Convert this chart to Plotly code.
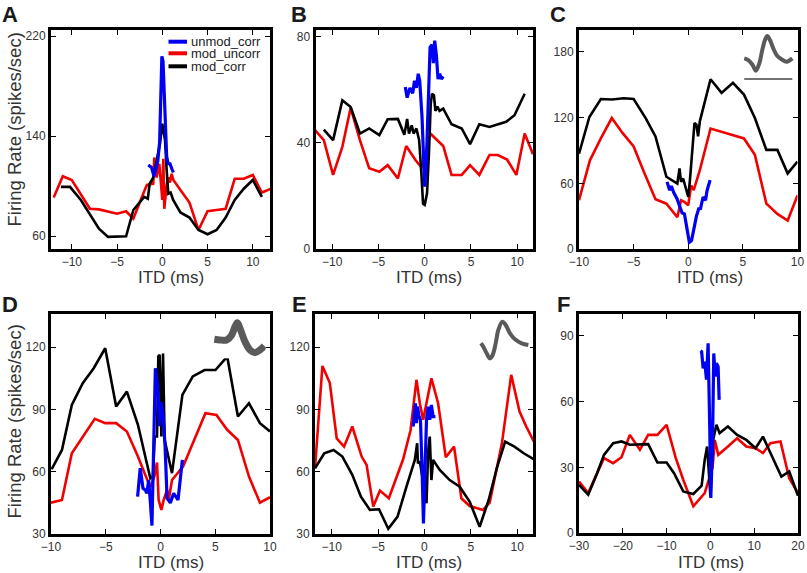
import plotly.graph_objects as go

# ---------------- data ----------------
# Panel A
A_blue_x = [-1.55, -1.18, -0.92, -0.7, -0.5, -0.3, -0.15, -0.05, 0.08, 0.2, 0.32, 0.48, 0.65, 0.85, 1.05, 1.22]
A_blue_y = [117, 115, 108, 115, 120, 135, 170, 204, 200, 175, 145, 124, 118, 118, 114, 111]
A_red_x = [-12, -11, -10, -9, -8, -7, -6, -5, -4, -3.2, -2, -1.7, -1.0, -0.89, -0.63, -0.33, 0, 0.11, 0.22, 0.48,
           0.66, 0.85, 1.03, 1.22, 2, 3, 4, 5, 6, 7, 8, 9, 10, 11, 12]
A_red_y = [91, 108, 105, 94, 82, 81.5, 80, 78, 80, 74, 96, 101, 102, 123, 107, 118, 89, 122, 82, 101,
           107, 103, 110, 105, 97, 87, 65, 80, 81, 82, 106, 106, 109, 95, 98]
A_black_x = [-11.2, -10.2, -9, -8, -7, -6, -5, -4, -3.2, -2, -1.6, -1.4, -1.0, -0.63, -0.26, 0, 0.3, 0.48, 0.66,
             0.92, 1.2, 2, 3, 4, 5, 6, 7, 8, 9, 10, 11]
A_black_y = [99.5, 99.5, 89, 78, 66, 59.5, 59.5, 60, 81, 91.5, 90, 102, 107, 121, 134, 150, 137, 113, 94,
             95, 89, 79, 75, 65, 61.6, 65, 75, 89, 98, 105, 91.5]

# Panel B
B_blue_x = [-2.1, -1.9, -1.6, -1.3, -1.1, -0.9, -0.7, -0.54, -0.29, -0.14, 0, 0.18, 0.36, 0.58, 0.79, 0.94,
            1.08, 1.26, 1.44, 1.62, 1.8, 2.0]
B_blue_y = [61, 57, 60.7, 58.7, 63.4, 60.7, 66, 63.4, 49.7, 33.5, 23.5, 33.5, 56, 76, 77, 70,
            78.5, 73, 64, 66, 64, 65]
B_red_x = [-11.9, -10.9, -9.9, -8.9, -8.0, -7.0, -6.0, -4.9, -4.0, -2.9, -2.0, -1.0, -0.3, 0.6, 2.0, 2.9,
           4.0, 4.9, 5.9, 7.0, 7.9, 8.9, 9.9, 10.8, 11.7]
B_red_y = [45, 41, 27.9, 38.5, 53.2, 41, 30.4, 29.1, 31.6, 26.6, 38.8, 33.5, 30.5, 43.5, 38.8, 27.9,
           27.9, 31.6, 27.9, 35.4, 35.4, 33.7, 27.9, 43.5, 35.7]
B_black_x = [-10.9, -9.9, -8.9, -8.0, -7.0, -6.0, -4.9, -4.0, -2.9, -2.2, -1.9, -1.7, -1.4, -1.2, -0.9, -0.6,
             -0.36, -0.18, 0, 0.25, 0.47, 0.65, 0.79, 1.0, 1.15, 1.37, 1.6, 2.0, 2.9, 4.0, 4.9, 5.9, 7.0,
             8.8, 9.7, 10.8]
B_black_y = [45, 41, 56, 53.5, 43.5, 45.4, 42.9, 48.9, 49, 43, 49, 43.5, 46.6, 43.5, 45.4, 41,
             28.5, 17, 16.6, 21, 37, 54.7, 58.5, 57.9, 52, 53.7, 52, 52.9, 47, 45.4, 39.5, 47, 46,
             47.9, 50.4, 58.5]

# Panel C
C_blue_x = [-1.94, -1.7, -1.55, -1.33, -1.03, -0.8, -0.57, -0.35, -0.12, 0.1, 0.3, 0.5, 0.75, 0.96, 1.12,
            1.36, 1.58, 1.73, 2.0]
C_blue_y = [61.3, 53.7, 57.5, 51.5, 46, 39, 33, 32, 18, 6.1, 7.7, 18, 30, 36.8, 37, 47.5, 44.5, 53.7, 62.9]
C_red_x = [-10, -9, -8, -7, -6, -5, -4, -3, -2, -1, -0.66, -0.35, 0, 0.26, 0.5, 1.06, 2.04, 3.05, 4.09,
           5.1, 6.1, 7.15, 8.16, 9.1, 10]
C_red_y = [44.5, 81, 101, 119.6, 105.8, 93.6, 69, 45.4, 41.4, 29, 44.5, 43, 40, 58, 53.7, 72, 110, 107, 104,
           101, 86, 41.4, 32, 26, 49]
C_black_x = [-10, -9.05, -8.0, -7.0, -5.9, -5.0, -3.9, -3.0, -2.0, -1.0, -0.8, -0.66, -0.47, -0.26, 0, 0.14,
             0.35, 0.57, 0.75, 0.9, 1.06, 2.04, 3.05, 4.09, 5.1, 6.1, 7.15, 8.16, 9.1, 10]
C_black_y = [87, 120.6, 137, 136.5, 137.7, 137, 119.6, 102.8, 66, 59.8, 73.6, 61.3, 64.4, 56.7, 47.5, 61.3,
             84.4, 115, 113.5, 102.8, 116.6, 155, 142.6, 151.8, 141, 119.6, 90.5, 90.5, 69, 79.8]

# Panel D
D_blue_x = [-2.09, -1.85, -1.6, -1.39, -1.24, -1.08, -0.93, -0.78, -0.47, -0.26, -0.1, 0.05, 0.25, 0.42, 0.6,
            0.9, 1.2, 1.45, 1.6, 1.8, 2.0]
D_blue_y = [48, 61.7, 52, 51.2, 49.6, 56, 45.6, 34, 109.9, 101, 82, 93.5, 86, 72, 47.2,
            45, 49.6, 47.2, 46.4, 56, 65.7]
D_red_x = [-10, -9, -8.1, -7.1, -6.0, -5.05, -4.05, -3.07, -2.06, -1.08, -0.87, -0.55, -0.32, -0.17, 0.08,
           0.29, 0.6, 0.75, 1.05, 2.06, 3.04, 4.1, 5.11, 6.09, 7.07, 8.08, 9.08, 10]
D_red_y = [45.1, 46.4, 68.9, 76.9, 85.5, 83.4, 83.4, 79.4, 67.3, 54.4, 52.8, 58, 64.4, 46.4, 41.6,
           46.4, 51.2, 46.4, 56, 62.5, 75.3, 88.2, 87.4, 80.2, 75.3, 57.7, 45.1, 47.7]
D_black_x = [-9.94, -9.0, -8.1, -7.1, -6.1, -5.05, -4.05, -3.07, -2.06, -0.93, -0.69, -0.53, -0.32, -0.2,
             -0.08, 0.08, 0.23, 0.38, 1.05, 2.0, 2.95, 4.02, 5.02, 6.09, 7.07, 8.08, 9.08, 10]
D_black_y = [61.2, 70.5, 92.2, 102.7, 109.9, 119.5, 91.4, 98.6, 82.6, 56.8, 57.7, 77, 77, 115.5,
             116.3, 77, 117, 75.3, 59.3, 97, 105.9, 109, 109, 115.5, 86.6, 93, 83.4, 79.4]

# Panel E
E_blue_x = [-1.22, -0.97, -0.86, -0.75, -0.6, -0.43, -0.25, -0.11, 0.05, 0.22, 0.39, 0.57, 0.75, 0.93, 1.18]
E_blue_y = [81.8, 93, 83.4, 91.4, 87, 85, 60, 35.1, 60, 85, 91.4, 85, 92.2, 86.6, 86.6]
E_red_x = [-11.8, -11.0, -10.2, -9.46, -8.67, -7.78, -6.77, -6.24, -5.52, -4.8, -3.84, -3.1, -2.3, -1.5,
           -0.86, -0.5, -0.14, 0.75, 1.47, 2.3, 3.19, 3.98, 4.87, 6.31, 7.03, 8.35, 9.35, 10.25, 10.97, 11.8]
E_red_y = [61.7, 111, 102.7, 76.1, 72.1, 81.8, 67.3, 63.3, 43.2, 50.9, 47.2, 56, 66, 80,
           104.3, 93, 85, 105, 93, 67, 72.1, 47.2, 43.5, 41.6, 45.1, 73.7, 106.7, 89, 81.8, 74.5]
E_black_x = [-11.8, -10.8, -9.8, -8.85, -7.78, -6.85, -5.88, -4.9, -3.9, -2.9, -1.94, -1.04, -0.79, -0.7,
             -0.5, 0.22, 0.4, 0.57, 0.75, 0.93, 1.65, 2.72, 3.8, 4.87, 5.95, 6.92, 7.8, 8.7, 9.7, 10.7, 11.8]
E_black_y = [61.7, 68.9, 70.5, 67.3, 58.5, 48, 41.6, 41.9, 32.5, 38.4, 52.8, 65.7, 73.7, 64,
             65, 44.8, 70, 76.9, 56, 65.7, 60.9, 56, 52.8, 45.6, 33.5, 46.4, 61.7, 74.5, 72.1, 68.9, 66]

# Panel F
F_blue_x = [-2.25, -2.0, -1.66, -1.28, -0.9, -0.52, -0.14, 0.09, 0.47, 0.77, 1.08, 1.38, 1.76, 2.0]
F_blue_y = [83.2, 82.8, 75.2, 78.2, 70, 86.6, 47, 16, 39.5, 82, 71.4, 77.5, 76, 60.8]
F_red_x = [-30, -27.9, -26.4, -24.3, -22.2, -20.3, -18.4, -16.1, -14.2, -12.1, -10, -7.9, -6.2, -3.9, -1.3,
           0.5, 1.0, 1.8, 4.0, 6.1, 8.2, 10.3, 12.0, 13.7, 16.0, 18, 20]
F_red_y = [23.5, 18.2, 25, 34.2, 31.9, 34.6, 44.8, 38, 44.8, 44.8, 49.4, 34.2, 24.3, 12.2, 18.2,
           30, 42.5, 35.7, 39.5, 43.3, 39.5, 38.7, 36.5, 41, 41.8, 25, 18.2]
F_black_x = [-30, -27.9, -26, -24.3, -22.2, -20.3, -18.4, -16.5, -14.2, -12.1, -10, -8.3, -6.2, -3.9, -2.0,
             -1.3, -0.75, -0.29, 0, 0.62, 1.38, 2.1, 4.0, 6.1, 8.2, 10.3, 12.0, 13.9, 16.2, 18, 20]
F_black_y = [22, 17.5, 26.6, 35.7, 41, 41.8, 40.3, 40.3, 40.6, 32.2, 32.2, 27.3, 19, 17.8, 21.6,
             33.4, 39.5, 25.8, 16.7, 42.5, 49.4, 45.6, 48.6, 44.8, 42.5, 38.7, 44, 35.7, 25.8, 28.1, 17]

# Spike waveform insets (normalised amplitude vs normalised time)
C_wave_t = [0, 0.083, 0.174, 0.243, 0.313, 0.375, 0.431, 0.479, 0.535, 0.604, 0.688, 0.778, 0.882, 1.0]
C_wave_v = [0.25, 0.2, 0.05, -0.12, 0.1, 0.5, 0.8, 0.92, 0.8, 0.55, 0.32, 0.22, 0.15, 0.25]
C_bar_t = [0, 1.0]
C_bar_v = [-0.37, -0.37]
D_wave_t = [0, 0.113, 0.247, 0.347, 0.413, 0.46, 0.513, 0.613, 0.713, 0.813, 0.913, 1.0]
D_wave_v = [0.22, 0.2, 0.2, 0.35, 0.6, 0.72, 0.55, 0.15, -0.1, -0.18, -0.1, 0.02]
E_wave_t = [0.033, 0.08, 0.147, 0.213, 0.267, 0.327, 0.38, 0.46, 0.527, 0.613, 0.713, 0.847, 0.98]
E_wave_v = [0.1, 0, -0.2, -0.35, -0.25, 0.1, 0.5, 0.75, 0.65, 0.4, 0.22, 0.1, 0.05]

series_names = ["unmod_corr", "mod_uncorr", "mod_corr"]
panel_letters = ["A", "B", "C", "D", "E", "F"]
x_title = "ITD (ms)"
y_title = "Firing Rate (spikes/sec)"

# ---------------- style / layout ----------------
W, H = 807, 573
FONT = "Liberation Sans, Arial, Helvetica, sans-serif"
BLUE, RED, BLACK, GREY = "#0000f5", "#f00000", "#000000", "#5a5a5a"

panel_data = [
    (A_blue_x, A_blue_y, A_red_x, A_red_y, A_black_x, A_black_y),
    (B_blue_x, B_blue_y, B_red_x, B_red_y, B_black_x, B_black_y),
    (C_blue_x, C_blue_y, C_red_x, C_red_y, C_black_x, C_black_y),
    (D_blue_x, D_blue_y, D_red_x, D_red_y, D_black_x, D_black_y),
    (E_blue_x, E_blue_y, E_red_x, E_red_y, E_black_x, E_black_y),
    (F_blue_x, F_blue_y, F_red_x, F_red_y, F_black_x, F_black_y),
]

# pixel boxes of the six axes: (left, right, top, bottom)
boxes = [(51, 270, 29.5, 248.5), (315.5, 533, 30, 249), (579, 797.5, 30, 249),
         (51, 270, 314, 534), (315, 533, 314, 534), (579, 798, 314, 533)]
x_ranges = [[-12.3, 11.9], [-11.8, 11.7], [-10, 10], [-10, 10], [-11.8, 11.7], [-30, 20]]
y_ranges = [[50.2, 225.4], [0, 82.5], [0, 200], [30, 136], [30, 136], [0, 100]]
x_dticks = [5, 5, 5, 5, 5, 10]
y_ticks = [(60, 80), (0, 40), (0, 60), (30, 30), (30, 30), (0, 30)]

fig = go.Figure()


def ax_id(i):
    return "" if i == 1 else str(i)


for i, (bx, by, rx, ry, kx, ky) in enumerate(panel_data, start=1):
    xa, ya = "x" + ax_id(i), "y" + ax_id(i)
    fig.add_trace(go.Scatter(x=rx, y=ry, mode="lines", line=dict(color=RED, width=2.6),
                             name=series_names[1], xaxis=xa, yaxis=ya, showlegend=False))
    fig.add_trace(go.Scatter(x=kx, y=ky, mode="lines", line=dict(color=BLACK, width=2.6),
                             name=series_names[2], xaxis=xa, yaxis=ya, showlegend=False))
    fig.add_trace(go.Scatter(x=bx, y=by, mode="lines", line=dict(color=BLUE, width=3.2),
                             name=series_names[0], xaxis=xa, yaxis=ya, showlegend=False))

axis_common = dict(showline=True, linewidth=3, linecolor="#000000", mirror="ticks",
                   ticks="inside", ticklen=5, tickwidth=1, tickcolor="#000000",
                   showgrid=False, zeroline=False, automargin=False,
                   tickfont=dict(family=FONT, size=12, color="#333333"))

layout = dict(template="none", width=W, height=H, margin=dict(l=0, r=0, t=0, b=0, pad=0),
              paper_bgcolor="white", plot_bgcolor="white", showlegend=False)

for i in range(1, 7):
    l, r, t, b = boxes[i - 1]
    layout["xaxis" + ax_id(i)] = dict(axis_common, domain=[l / W, r / W], range=x_ranges[i - 1],
                                      dtick=x_dticks[i - 1], tick0=0, anchor="y" + ax_id(i))
    t0, dt = y_ticks[i - 1]
    layout["yaxis" + ax_id(i)] = dict(axis_common, domain=[1 - b / H, 1 - t / H], range=y_ranges[i - 1],
                                      tick0=t0, dtick=dt, anchor="x" + ax_id(i))

# ---- spike waveform insets ----
insets = [  # (axis index, t, v, width, px box (l, r, t, b), t range, v range)
    (7, C_wave_t, C_wave_v, 4, (743.3, 794, 31.7, 81.7), [-0.02, 1.035], [-0.45, 1.05]),
    (8, D_wave_t, D_wave_v, 7, (212.7, 265.7, 318.3, 358.3), [-0.033, 1.027], [-0.35, 0.85]),
    (9, E_wave_t, E_wave_v, 4, (478.3, 530, 318.3, 361.7), [-0.02, 1.013], [-0.45, 0.85]),
]
for idx, tt, vv, wd, (l, r, t, b), tr, vr in insets:
    fig.add_trace(go.Scatter(x=tt, y=vv, mode="lines", line=dict(color=GREY, width=wd, shape="spline"),
                             xaxis="x%d" % idx, yaxis="y%d" % idx, showlegend=False))
    layout["xaxis%d" % idx] = dict(domain=[l / W, r / W], range=tr, visible=False, anchor="y%d" % idx,
                                   automargin=False)
    layout["yaxis%d" % idx] = dict(domain=[1 - b / H, 1 - t / H], range=vr, visible=False, anchor="x%d" % idx,
                                   automargin=False)
fig.add_trace(go.Scatter(x=C_bar_t, y=C_bar_v, mode="lines", line=dict(color="#444444", width=1.5),
                         xaxis="x7", yaxis="y7", showlegend=False))

fig.update_layout(**layout)

# ---- annotations: panel letters, axis titles, legend ----
ann = []
letter_pos = [(10, 15), (299, 15), (558, 15), (10, 304), (299, 304), (563, 304)]
for L, (px, py) in zip(panel_letters, letter_pos):
    ann.append(dict(x=px / W, y=1 - py / H, xref="paper", yref="paper", text="<b>%s</b>" % L,
                    showarrow=False, xanchor="center", yanchor="middle",
                    font=dict(family=FONT, size=22, color="#1a1a1a")))
xt_pos = [(171, 277), (429, 277), (710, 277), (171, 562), (429, 562), (711, 562)]
for px, py in xt_pos:
    ann.append(dict(x=px / W, y=1 - py / H, xref="paper", yref="paper", text=x_title,
                    showarrow=False, xanchor="center", yanchor="middle",
                    font=dict(family=FONT, size=17, color="#333333")))
for py in (130, 422):
    ann.append(dict(x=13.5 / W, y=1 - py / H, xref="paper", yref="paper", text=y_title, textangle=-90,
                    showarrow=False, xanchor="center", yanchor="middle",
                    font=dict(family=FONT, size=18.5, color="#333333")))

# legend of panel A (inside, top right)
leg_colors = [BLUE, RED, BLACK]
leg_rows = [41.7, 53.3, 66.3]
l, r, t, b = boxes[0]
shapes = []
for name, col, py in zip(series_names, leg_colors, leg_rows):
    yf = (b - py) / (b - t)
    shapes.append(dict(type="line", xref="x domain", yref="y domain",
                       x0=(168.5 - l) / (r - l), x1=(187 - l) / (r - l), y0=yf, y1=yf,
                       line=dict(color=col, width=4)))
    ann.append(dict(x=(189 - l) / (r - l), y=yf, xref="x domain", yref="y domain", text=name,
                    showarrow=False, xanchor="left", yanchor="middle",
                    font=dict(family=FONT, size=13, color="#222222")))

fig.update_layout(annotations=ann, shapes=shapes)
# the page body keeps no default margin so the figure starts at the window's corner
fig.write_html("out.html", config={"displayModeBar": False},
               post_script="document.body.style.margin='0';")
